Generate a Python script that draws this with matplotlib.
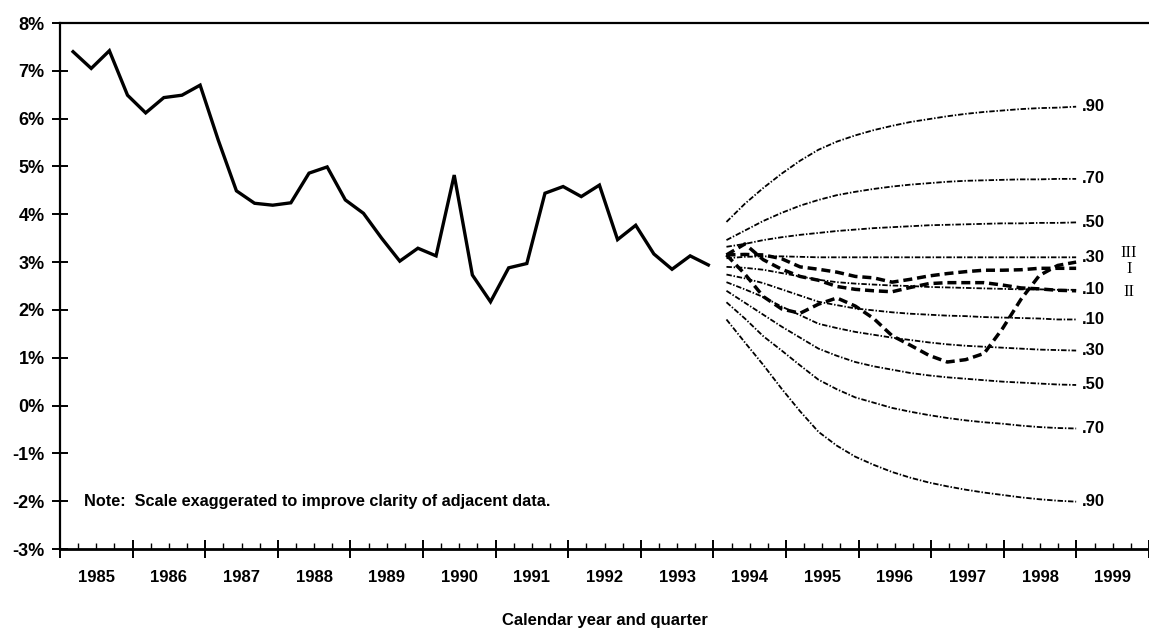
import matplotlib
matplotlib.use('Agg')
import matplotlib.pyplot as plt
from matplotlib.ticker import FixedLocator, FixedFormatter

# ---------------- data ----------------
hist_first_year = 1985
hist_values = [7.40, 7.05, 7.42, 6.49, 6.12, 6.44, 6.49, 6.70,
               5.55, 4.49, 4.23, 4.19, 4.24, 4.86, 4.99, 4.30,
               4.02, 3.50, 3.02, 3.29, 3.13, 4.82, 2.73, 2.17,
               2.88, 2.97, 4.44, 4.58, 4.37, 4.61, 3.47, 3.77,
               3.17, 2.85, 3.13, 2.94]

proj_first_year = 1994
p90_upper = [3.84, 4.22, 4.55, 4.85, 5.12, 5.35, 5.52, 5.65, 5.76, 5.85,
             5.93, 5.99, 6.05, 6.10, 6.14, 6.17, 6.20, 6.22, 6.23, 6.25]
p70_upper = [3.46, 3.66, 3.86, 4.03, 4.18, 4.30, 4.40, 4.47, 4.53, 4.58,
             4.62, 4.65, 4.68, 4.70, 4.71, 4.72, 4.73, 4.73, 4.74, 4.74]
p50_upper = [3.32, 3.38, 3.46, 3.52, 3.57, 3.61, 3.65, 3.68, 3.71, 3.73,
             3.75, 3.77, 3.78, 3.79, 3.80, 3.81, 3.81, 3.82, 3.82, 3.83]
p30_upper = [3.08, 3.11, 3.12, 3.12, 3.11, 3.10, 3.10, 3.10, 3.10, 3.10,
             3.10, 3.10, 3.10, 3.10, 3.10, 3.10, 3.10, 3.10, 3.10, 3.10]
p10_upper = [2.90, 2.88, 2.84, 2.77, 2.70, 2.63, 2.58, 2.55, 2.53, 2.51,
             2.50, 2.48, 2.47, 2.46, 2.45, 2.44, 2.43, 2.43, 2.42, 2.42]
p10_lower = [2.74, 2.66, 2.56, 2.43, 2.30, 2.17, 2.10, 2.03, 1.99, 1.95,
             1.92, 1.90, 1.88, 1.87, 1.85, 1.84, 1.83, 1.82, 1.80, 1.80]
p30_lower = [2.58, 2.43, 2.27, 2.07, 1.89, 1.71, 1.62, 1.54, 1.48, 1.42,
             1.37, 1.32, 1.28, 1.25, 1.23, 1.21, 1.19, 1.17, 1.16, 1.15]
p50_lower = [2.40, 2.15, 1.90, 1.65, 1.42, 1.19, 1.04, 0.91, 0.82, 0.75,
             0.68, 0.63, 0.59, 0.56, 0.53, 0.50, 0.48, 0.46, 0.44, 0.43]
p70_lower = [2.16, 1.82, 1.45, 1.15, 0.84, 0.54, 0.34, 0.17, 0.06, -0.05,
             -0.13, -0.20, -0.26, -0.31, -0.35, -0.38, -0.42, -0.45, -0.47, -0.48]
p90_lower = [1.80, 1.32, 0.85, 0.35, -0.12, -0.55, -0.84, -1.07, -1.24, -1.39,
             -1.51, -1.61, -1.69, -1.76, -1.82, -1.87, -1.92, -1.96, -1.99, -2.01]

band_labels = ['.90', '.70', '.50', '.30', '.10', '.10', '.30', '.50', '.70', '.90']

scen_I = [3.15, 3.16, 3.15, 3.07, 2.90, 2.85, 2.79, 2.70, 2.67, 2.58,
          2.64, 2.71, 2.76, 2.80, 2.83, 2.83, 2.84, 2.87, 2.87, 2.87]
scen_II = [3.15, 3.38, 3.05, 2.85, 2.70, 2.62, 2.49, 2.43, 2.40, 2.38,
           2.47, 2.55, 2.57, 2.57, 2.57, 2.52, 2.46, 2.44, 2.41, 2.40]
scen_III = [3.15, 2.75, 2.28, 2.02, 1.93, 2.12, 2.25, 2.08, 1.82, 1.46,
            1.26, 1.05, 0.91, 0.96, 1.09, 1.61, 2.22, 2.72, 2.93, 3.00]

years = list(range(1985, 2000))
y_ticks = list(range(-3, 9))
note_text = "Note:  Scale exaggerated to improve clarity of adjacent data."
x_title = "Calendar year and quarter"

# ---------------- figure ----------------
plt.rcParams['font.family'] = ['Liberation Sans', 'DejaVu Sans']
W, H = 1149, 630
fig = plt.figure(figsize=(W / 100, H / 100), dpi=100)
ax = fig.add_axes([60 / W, (H - 549) / H, 1 - 60 / W, (549 - 23) / H])
ax.set_xlim(1985, 2000)
ax.set_ylim(-3, 8)

q_off = 0.18
x_hist = [hist_first_year + i / 4 + q_off for i in range(len(hist_values))]
x_proj = [proj_first_year + i / 4 + q_off + i * 0.0035 for i in range(len(p90_upper))]

ax.plot(x_hist, hist_values, color='black', lw=2.4, solid_joinstyle='miter')

bands = [p90_upper, p70_upper, p50_upper, p30_upper, p10_upper,
         p10_lower, p30_lower, p50_lower, p70_lower, p90_lower]
for vals, lab in zip(bands, band_labels):
    ax.plot(x_proj, vals, color='black', lw=1.3, dashes=(3.0, 1.0, 0.8, 1.0))
    ax.text(1999.07, vals[-1], lab, ha='left', va='center', fontsize=12,
            fontweight='bold', clip_on=False)

for vals in (scen_I, scen_II, scen_III):
    ax.plot(x_proj, vals, color='black', lw=2.5, dashes=(2.6, 1.4))

serif = ['Liberation Serif', 'DejaVu Serif']
ax.text(1999.72, scen_III[-1] + 0.20, 'III', ha='center', va='center',
        fontsize=12, family=serif)
ax.text(1999.72, scen_I[-1] - 0.02, 'I', ha='center', va='center',
        fontsize=12, family=serif)
ax.text(1999.72, scen_II[-1] - 0.03, 'II', ha='center', va='center',
        fontsize=12, family=serif)

ax.text(1985.33, -2.0, note_text, ha='left', va='center', fontsize=11.7,
        fontweight='bold')

# spines
for s in ('top', 'left'):
    ax.spines[s].set_linewidth(1.6)
ax.spines['bottom'].set_linewidth(2.0)
ax.spines['right'].set_visible(False)

# y axis
ax.set_yticks(y_ticks)
ax.set_yticklabels([f"{v}%" for v in y_ticks], fontsize=13, fontweight='bold')
ax.tick_params(axis='y', direction='inout', length=12, width=1.4, pad=5)

# x axis
ax.xaxis.set_major_locator(FixedLocator(years + [2000]))
ax.xaxis.set_major_formatter(FixedFormatter([''] * (len(years) + 1)))
minor_pos, minor_lab = [], []
for yr in years:
    for q in (1, 2, 3):
        minor_pos.append(yr + q / 4)
        minor_lab.append(str(yr) if q == 2 else '')
ax.xaxis.set_minor_locator(FixedLocator(minor_pos))
ax.xaxis.set_minor_formatter(FixedFormatter(minor_lab))
ax.tick_params(axis='x', which='major', direction='inout', length=13, width=1.4)
ax.tick_params(axis='x', which='minor', direction='in', length=4, width=1.0,
               pad=15, labelsize=12)
for t in ax.xaxis.get_minorticklabels():
    t.set_fontweight('bold')

fig.text(ax.get_position().x0 + ax.get_position().width / 2, 10 / H, x_title,
         ha='center', va='center', fontsize=12, fontweight='bold')

fig.savefig('out.png', dpi=100)
